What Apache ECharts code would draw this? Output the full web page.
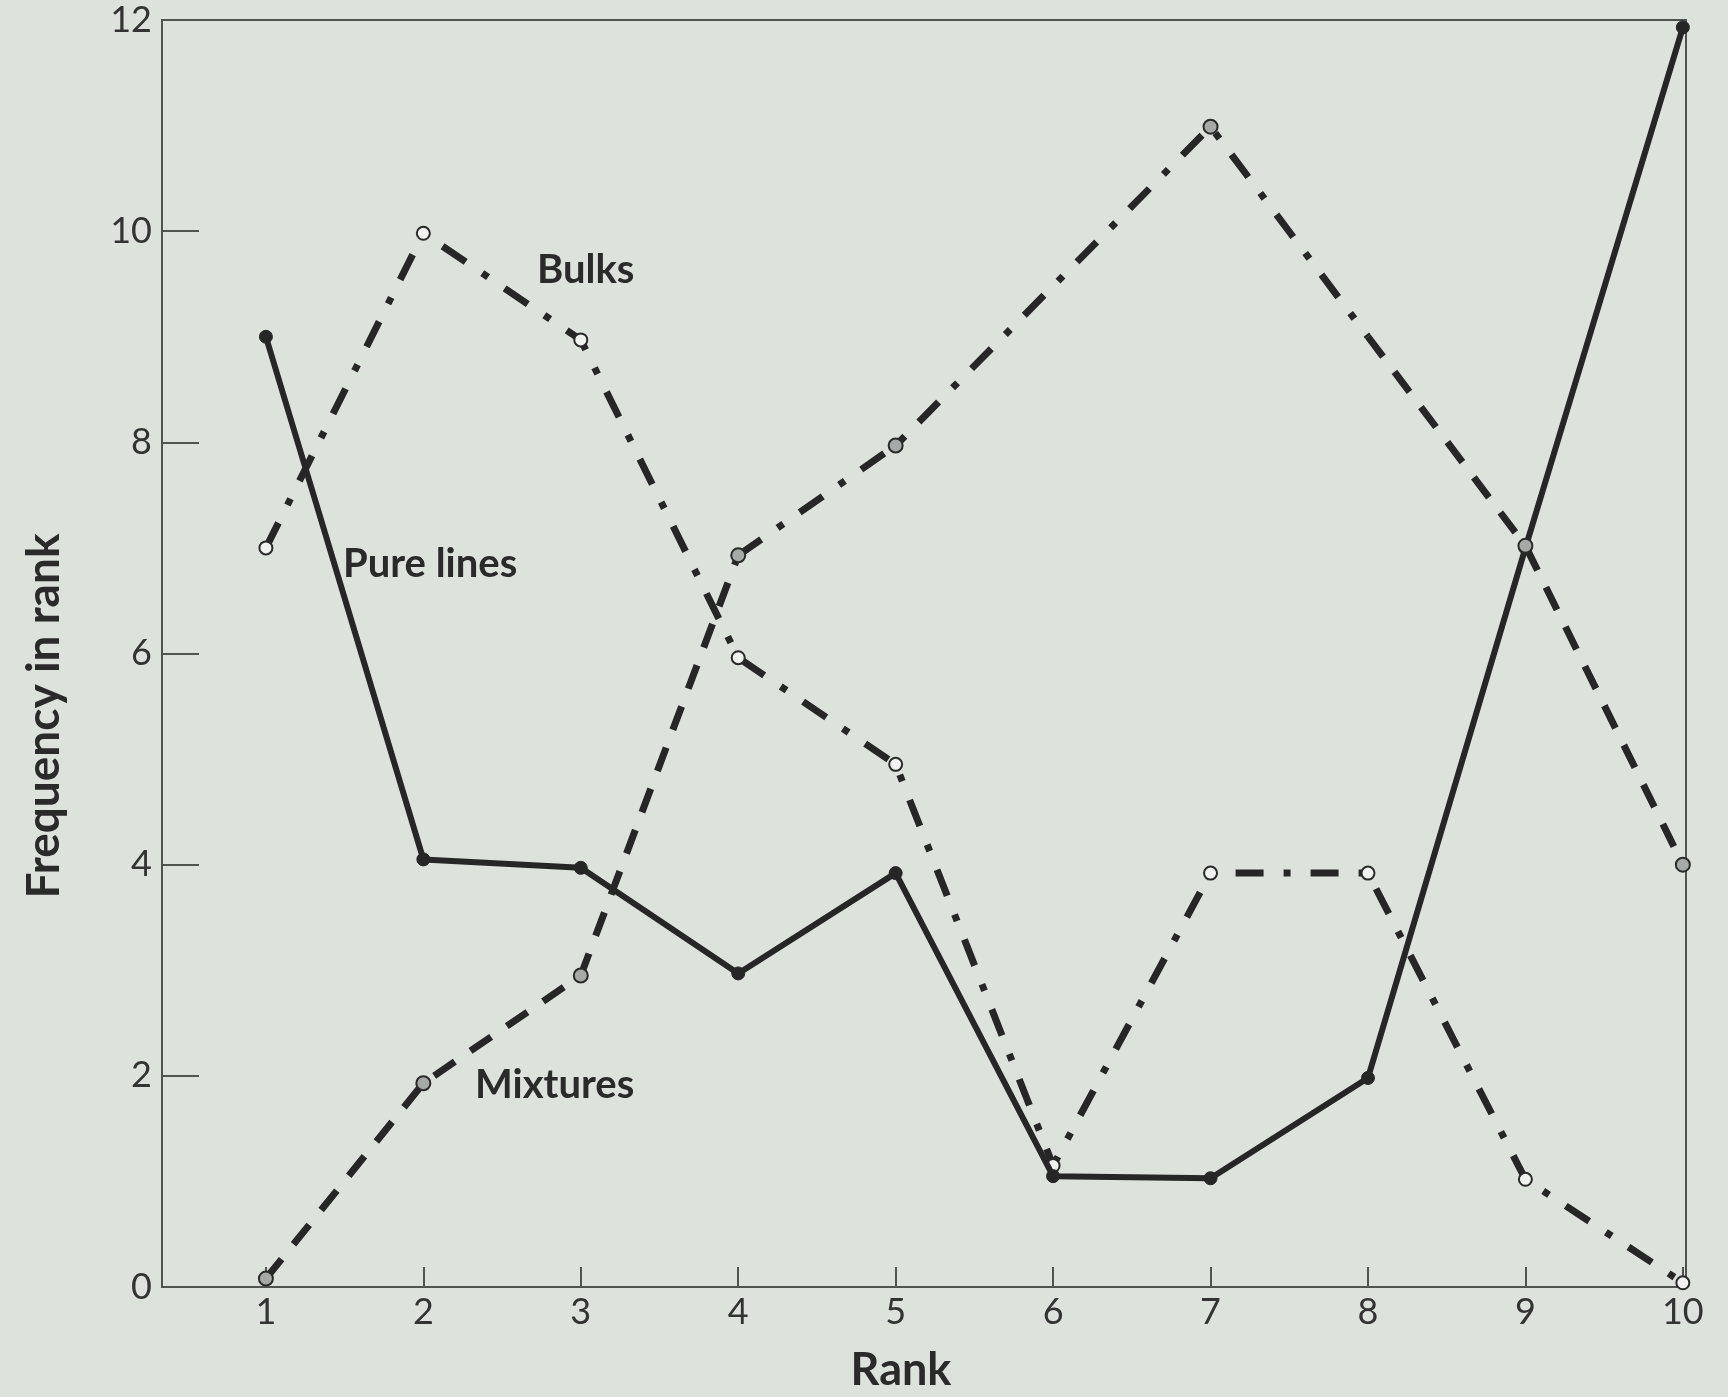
<!DOCTYPE html>
<html>
<head>
<meta charset="utf-8">
<script src="https://cdn.jsdelivr.net/npm/echarts@6/dist/echarts.min.js"></script>
<style>
  html, body { margin: 0; padding: 0; background: #dde2dd; }
  #chart { width: 1728px; height: 1397px; }
</style>
</head>
<body>
<div id="chart"></div>
<script>
// ---- data ----
const ranks = [1, 2, 3, 4, 5, 6, 7, 8, 9, 10];
const yTicks = [0, 2, 4, 6, 8, 10, 12];
const pureLines = [9.0, 4.05, 3.97, 2.97, 3.92, 1.05, 1.03, 1.98, 7.0, 11.93];
const bulks = [7.0, 9.98, 8.97, 5.96, 4.95, 1.15, 3.92, 3.92, 1.02, 0.04];
// mixtures: no value drawn at rank 6; rank 8 lies on the line without a marker
const mixtures = [0.08, 1.93, 2.95, 6.93, 7.97, null, 10.99, 9.0, 7.02, 4.0];
const mixturesUnmarked = [8];

const INK = '#262626';
const AXIS = '#505450';
const TEXT = '#2a2a2a';
const FONT = 'Lato, "Open Sans", sans-serif';

function pairs(arr, from, to) {
  const out = [];
  for (let i = from; i <= to; i++) out.push([ranks[i], arr[i]]);
  return out;
}

const dashDot = [28, 20, 7, 20];
const dashed = [25, 19];

const chart = echarts.init(document.getElementById('chart'));
chart.setOption({
  backgroundColor: '#dde2dd',
  animation: false,
  grid: {
    left: 162, right: 42, top: 20, bottom: 110,
    show: true, borderColor: AXIS, borderWidth: 2, backgroundColor: 'transparent'
  },
  xAxis: {
    type: 'value', min: 0.34, max: 10.02,
    axisLine: { show: true, lineStyle: { color: AXIS, width: 2 } },
    axisTick: { show: true, inside: true, length: 20, customValues: ranks, lineStyle: { color: AXIS, width: 2 } },
    axisLabel: { customValues: ranks, fontFamily: FONT, fontWeight: 'normal', fontSize: 36, color: '#333', margin: 7 },
    splitLine: { show: false }
  },
  yAxis: {
    type: 'value', min: 0, max: 12, interval: 2,
    axisLine: { show: true, lineStyle: { color: AXIS, width: 2 } },
    axisTick: { show: true, inside: true, length: 37, customValues: yTicks, lineStyle: { color: AXIS, width: 2 } },
    axisLabel: { customValues: yTicks, fontFamily: FONT, fontWeight: 'normal', fontSize: 36, color: '#333', margin: 10 },
    splitLine: { show: false }
  },
  series: [
    {
      name: 'Bulks', type: 'line', data: pairs(bulks, 0, 9), z: 3,
      lineStyle: { color: INK, width: 7, type: dashDot },
      symbol: 'circle', symbolSize: 13,
      itemStyle: { color: '#f1f3f1', borderColor: TEXT, borderWidth: 2 }
    },
    {
      name: 'Mixtures', type: 'line', data: pairs(mixtures, 0, 3), z: 3,
      lineStyle: { color: INK, width: 7, type: dashed }, symbol: 'none'
    },
    {
      name: 'Mixtures', type: 'line', data: pairs(mixtures, 3, 7), connectNulls: true, z: 3,
      lineStyle: { color: INK, width: 7, type: dashDot }, symbol: 'none'
    },
    {
      name: 'Mixtures', type: 'line', data: pairs(mixtures, 7, 9), z: 3,
      lineStyle: { color: INK, width: 7, type: dashed }, symbol: 'none'
    },
    {
      name: 'Mixtures', type: 'scatter', z: 5,
      data: pairs(mixtures, 0, 9).filter(p => p[1] !== null && mixturesUnmarked.indexOf(p[0]) < 0),
      symbol: 'circle', symbolSize: 14,
      itemStyle: { color: '#a6aaa6', borderColor: TEXT, borderWidth: 2, opacity: 1 }
    },
    {
      name: 'Pure lines', type: 'line', data: pairs(pureLines, 0, 9), z: 4,
      lineStyle: { color: INK, width: 6, type: 'solid' },
      symbol: 'circle', symbolSize: 13,
      itemStyle: { color: INK, borderColor: INK, borderWidth: 1 }
    }
  ],
  graphic: [
    { type: 'text', left: 537, top: 250, style: { text: 'Bulks', font: 'bold 40px ' + FONT, fill: TEXT } },
    { type: 'text', left: 343, top: 544, style: { text: 'Pure lines', font: 'bold 40px ' + FONT, fill: TEXT } },
    { type: 'text', left: 475, top: 1065, style: { text: 'Mixtures', font: 'bold 40px ' + FONT, fill: TEXT } },
    { type: 'text', x: 901, y: 1370,
      style: { text: 'Rank', font: 'bold 45px ' + FONT, fill: TEXT, align: 'center', verticalAlign: 'middle' } },
    { type: 'text', x: 44, y: 716, rotation: Math.PI / 2,
      style: { text: 'Frequency in rank', font: 'bold 46px ' + FONT, fill: TEXT, align: 'center', verticalAlign: 'middle' } }
  ]
});
</script>
</body>
</html>
